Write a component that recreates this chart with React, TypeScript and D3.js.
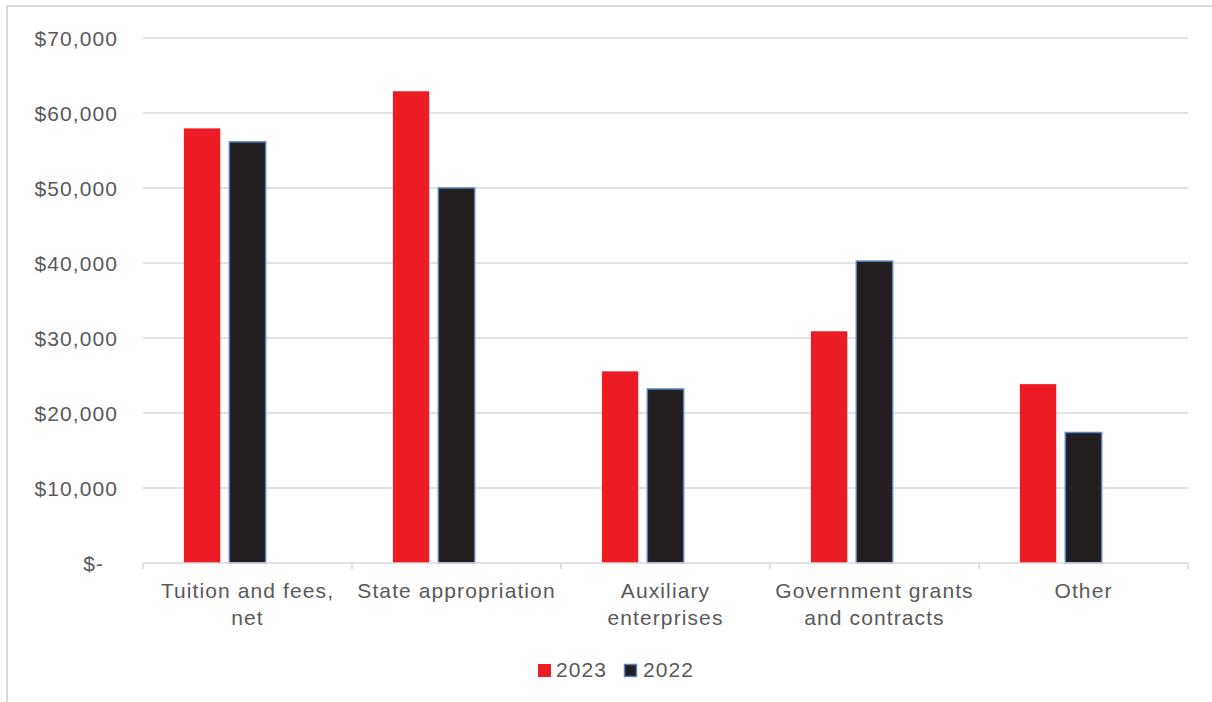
import React from "react";
import * as d3 from "d3";

const categories: string[][] = [
  ["Tuition and fees,", "net"],
  ["State appropriation"],
  ["Auxiliary", "enterprises"],
  ["Government grants", "and contracts"],
  ["Other"],
];
const series2023: number[] = [57950, 62900, 25550, 30900, 23850];
const series2022: number[] = [56150, 50000, 23200, 40250, 17400];
const yTicks: number[] = [0, 10000, 20000, 30000, 40000, 50000, 60000, 70000];
const seriesNames = ["2023", "2022"];

const W = 1212;
const H = 702;
const left = 143;
const right = 1188;
const top = 38;
const bottom = 563;
const FONT = "'Liberation Sans', Arial, sans-serif";
const TEXT = "#595959";
const GRID = "#D9D9D9";
const RED = "#ED1C24";
const BLACK = "#231F20";
const BLUE = "#5B82BF";
const FS = 21;
const LS = 1.1;

export default function App() {
  const x = d3
    .scaleBand<number>()
    .domain(d3.range(categories.length))
    .range([left, right])
    .paddingInner(0)
    .paddingOuter(0);
  // inner scale with 3 slots (third empty series as in original)
  const inner = d3
    .scaleBand<number>()
    .domain([0, 1, 2])
    .range([0, x.bandwidth()])
    .paddingInner(0.2)
    .paddingOuter(0.9);
  const y = d3.scaleLinear().domain([0, 70000]).range([bottom, top]);
  const fmt = (v: number) => (v === 0 ? "$-" : "$" + d3.format(",")(v));
  const bw = inner.bandwidth();
  const boundaries = d3.range(categories.length + 1).map((i) => left + i * x.bandwidth());

  return (
    <svg
      width={W}
      height={H}
      style={{ position: "absolute", left: 0, top: 0, background: "#fff" }}
      fontFamily={FONT}
    >
      <rect x={0} y={0} width={W} height={H} fill="#fff" />
      <line x1={7} y1={6} x2={W} y2={6} stroke={GRID} strokeWidth={2} />
      <line x1={7} y1={6} x2={7} y2={H} stroke={GRID} strokeWidth={2} />
      {yTicks.map((t) => (
        <g key={t}>
          {t !== 0 && (
            <line x1={left} x2={right} y1={y(t)} y2={y(t)} stroke={GRID} strokeWidth={1.5} />
          )}
          <text
            x={t === 0 ? 104 : 118}
            y={y(t) + 7.5}
            textAnchor="end"
            fontSize={FS}
            letterSpacing={LS}
            fill={TEXT}
          >
            {fmt(t)}
          </text>
        </g>
      ))}
      {categories.map((c, i) => {
        const x0 = x(i)!;
        return (
          <g key={i}>
            <rect
              x={x0 + inner(0)!}
              y={y(series2023[i])}
              width={bw}
              height={bottom - y(series2023[i])}
              fill={RED}
            />
            <rect
              x={x0 + inner(1)!}
              y={y(series2022[i])}
              width={bw}
              height={bottom - y(series2022[i])}
              fill={BLACK}
              stroke={BLUE}
              strokeWidth={1.5}
            />
            {c.map((line, j) => (
              <text
                key={j}
                x={x0 + x.bandwidth() / 2}
                y={598 + j * 27}
                textAnchor="middle"
                fontSize={FS}
                letterSpacing={LS}
                fill={TEXT}
              >
                {line}
              </text>
            ))}
          </g>
        );
      })}
      <line x1={left} x2={right} y1={bottom} y2={bottom} stroke={GRID} strokeWidth={1.5} />
      {boundaries.map((b, i) => (
        <line key={i} x1={b} x2={b} y1={bottom} y2={bottom + 6} stroke={GRID} strokeWidth={1.5} />
      ))}
      <g>
        <rect x={538} y={664} width={13} height={13} fill={RED} />
        <text x={556} y={677} fontSize={FS} letterSpacing={LS} fill={TEXT}>
          {seriesNames[0]}
        </text>
        <rect x={624.5} y={664.5} width={12} height={12} fill={BLACK} stroke={BLUE} strokeWidth={1.5} />
        <text x={643} y={677} fontSize={FS} letterSpacing={LS} fill={TEXT}>
          {seriesNames[1]}
        </text>
      </g>
    </svg>
  );
}
